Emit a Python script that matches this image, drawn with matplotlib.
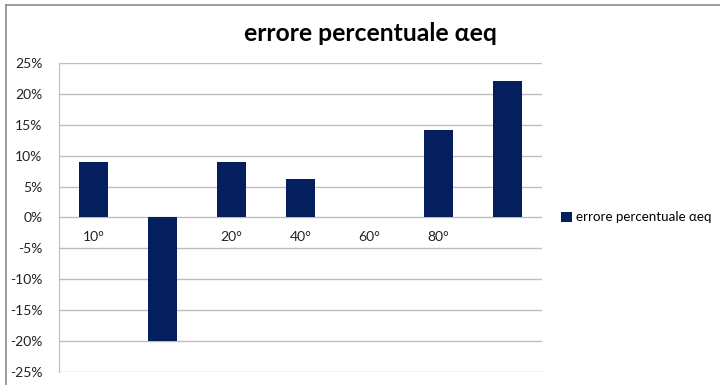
import matplotlib
matplotlib.use('Agg')
import matplotlib.pyplot as plt
from matplotlib.lines import Line2D

# Data
categories = ['10°', '', '20°', '40°', '60°', '80°', '']
values = [9.0, -20.0, 9.0, 6.2, 0.0, 14.2, 22.1]
series_name = 'errore percentuale \u03b1eq'
yticks = [-25, -20, -15, -10, -5, 0, 5, 10, 15, 20, 25]

plt.rcParams['font.family'] = ['Lato', 'DejaVu Sans']

fig = plt.figure(figsize=(7.2, 3.85), dpi=100)
ax = fig.add_axes([0.0819, 0.0338, 0.6708, 0.8026])

bar_color = '#041e5e'
x = list(range(len(categories)))
bars = ax.bar(x, values, width=0.42, color=bar_color, zorder=3, label=series_name)

ax.set_xlim(-0.5, len(categories) - 0.5)
ax.set_ylim(-25, 25)
ax.set_yticks(yticks)
ax.set_yticklabels([f'{v}%' for v in yticks], fontsize=10, color='#222222')
ax.tick_params(axis='y', length=0, pad=12)
ax.grid(axis='y', color='#bdbdbd', linewidth=1, zorder=0)

# category labels sit just under the zero line, like Excel
ax.set_xticks([])
for xi, lab in zip(x, categories):
    ax.text(xi, -2.2, lab, ha='center', va='top', fontsize=10, color='#222222')

for side in ['top', 'right', 'bottom']:
    ax.spines[side].set_visible(False)
ax.spines['left'].set_color('#bdbdbd')

fig.text(0.514, 0.912, series_name, ha='center', va='center', fontsize=17.8,
         fontweight='bold', color='black')

ax.legend(handles=[bars], labels=[series_name], loc='center left',
          bbox_to_anchor=(1.015, 0.5), frameon=False, fontsize=9.6,
          handlelength=0.8, handleheight=0.8, handletextpad=0.3)

# outer chart frame (only left and top edges visible in the crop)
fig.add_artist(Line2D([0.0085, 0.0085], [0.0, 0.987], color='#8c8c8c', linewidth=1.2))
fig.add_artist(Line2D([0.0085, 1.0], [0.987, 0.987], color='#8c8c8c', linewidth=1.2))

plt.savefig('out.png', dpi=100)
plt.close()
